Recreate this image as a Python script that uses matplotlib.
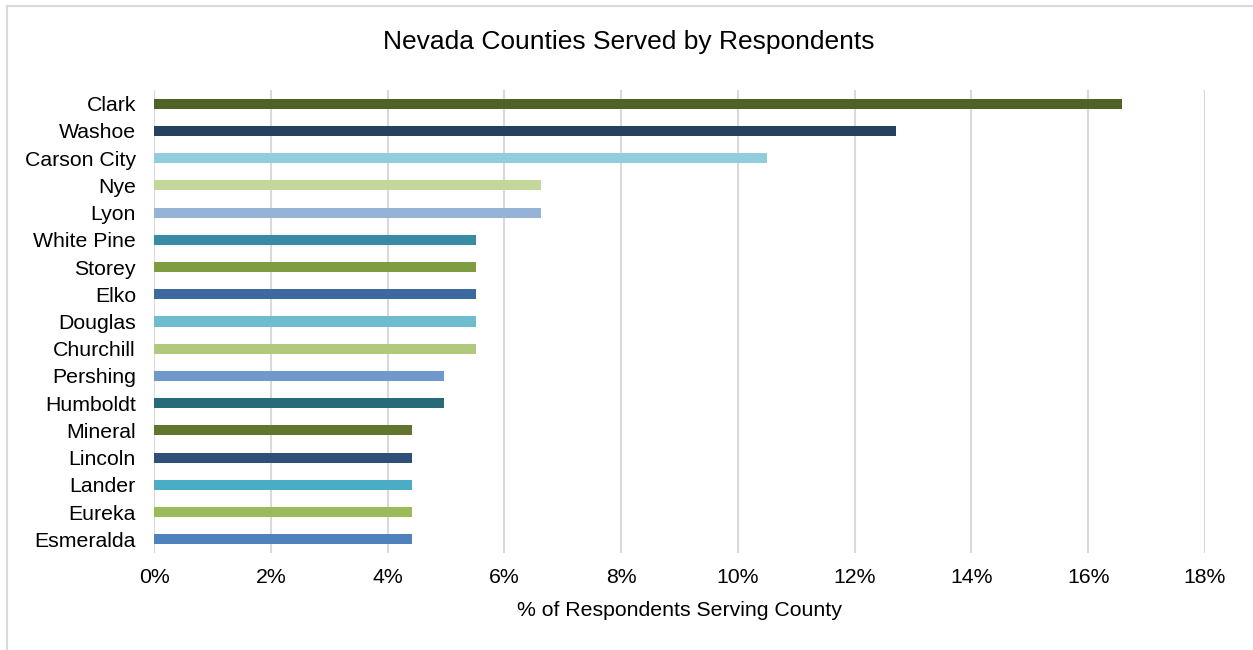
import matplotlib.pyplot as plt
from matplotlib.lines import Line2D
from matplotlib.ticker import FuncFormatter

plt.rcParams['font.family'] = ['Liberation Sans', 'DejaVu Sans']

counties = ["Clark", "Washoe", "Carson City", "Nye", "Lyon", "White Pine", "Storey",
            "Elko", "Douglas", "Churchill", "Pershing", "Humboldt", "Mineral",
            "Lincoln", "Lander", "Eureka", "Esmeralda"]
pct = [16.57, 12.71, 10.50, 6.63, 6.63, 5.52, 5.52, 5.52, 5.52, 5.52,
       4.97, 4.97, 4.42, 4.42, 4.42, 4.42, 4.42]
colors = ["#4f6228", "#254061", "#93cddd", "#c4d79b", "#95b3d7", "#378ba5", "#7f9c40",
          "#3c6a9e", "#6fbcd0", "#b0c97c", "#7098c9", "#276a7a", "#62752f",
          "#2d4f78", "#4aacc5", "#9bbb59", "#4f81bd"]

W, H = 1253, 650
fig = plt.figure(figsize=(W / 100, H / 100), dpi=100)

# outer chart border (top and left only visible)
fig.lines.append(Line2D([7 / W, 1.0], [1 - 6 / H, 1 - 6 / H], transform=fig.transFigure,
                        color="#d9d9d9", linewidth=1.5))
fig.lines.append(Line2D([7 / W, 7 / W], [0, 1 - 6 / H], transform=fig.transFigure,
                        color="#d9d9d9", linewidth=1.5))

ax = fig.add_axes([154 / W, 1 - 553 / H, (1205 - 154) / W, (553 - 90) / H])
ypos = list(range(len(counties)))
ax.barh(ypos, pct, height=0.37, color=colors, zorder=3)
ax.set_ylim(len(counties) - 0.5, -0.5)
ax.set_xlim(0, 18)
ax.set_xticks(range(0, 19, 2))
ax.xaxis.set_major_formatter(FuncFormatter(lambda v, p: f"{int(v)}%"))
ax.set_yticks(ypos)
ax.set_yticklabels(counties, fontsize=15.3)
ax.tick_params(axis="x", labelsize=15.3, length=0, pad=11)
ax.tick_params(axis="y", length=0, pad=13)
ax.grid(axis="x", color="#d9d9d9", linewidth=1.5, zorder=0)
for s in ax.spines.values():
    s.set_visible(False)

ax.set_xlabel("% of Respondents Serving County", fontsize=15.3, labelpad=10)
fig.text(629 / W, 1 - 42 / H, "Nevada Counties Served by Respondents",
         ha="center", va="center", fontsize=19)

fig.savefig("out.png", dpi=100)
